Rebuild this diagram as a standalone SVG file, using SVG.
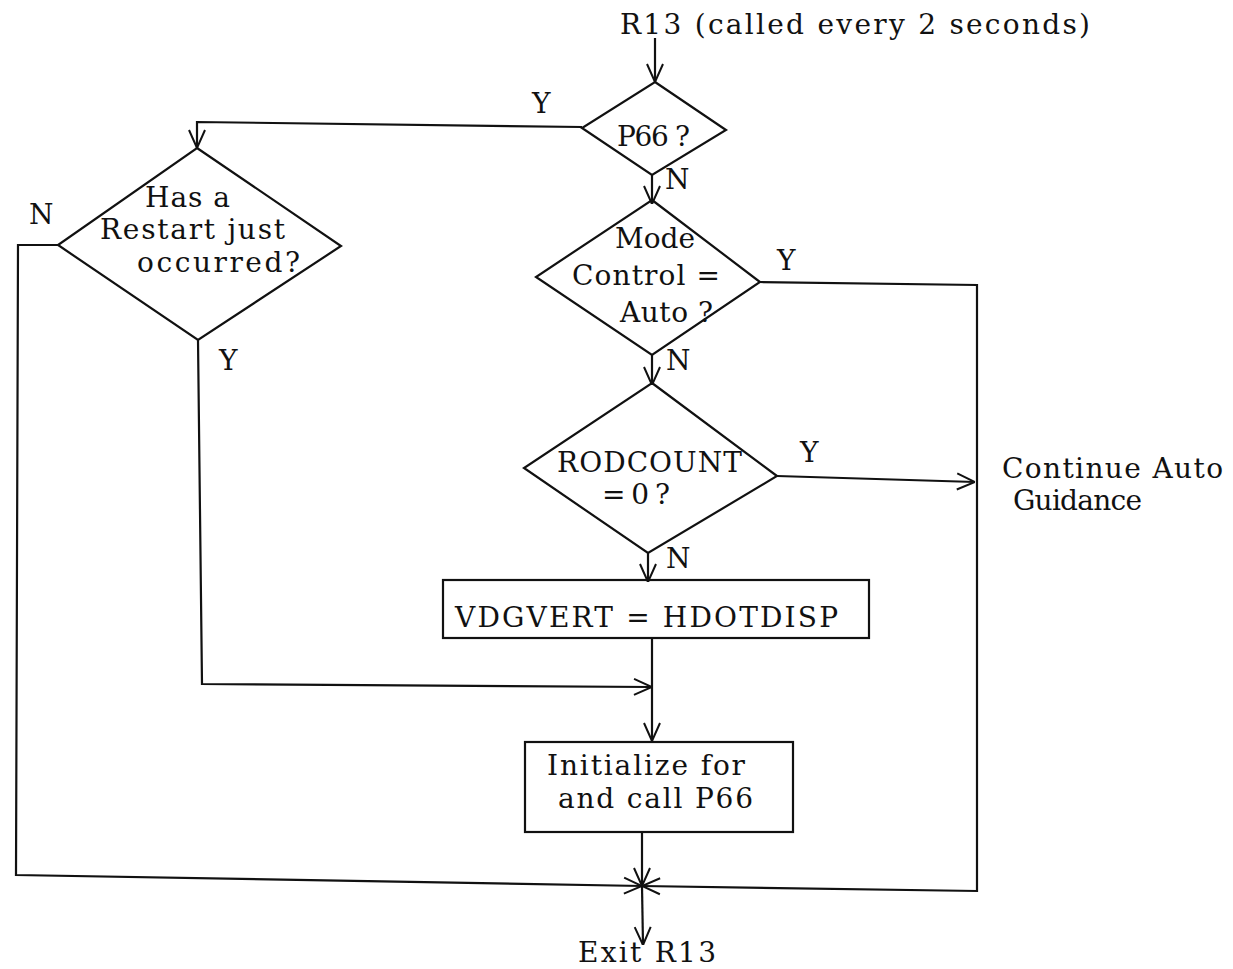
<svg xmlns="http://www.w3.org/2000/svg" width="1233" height="969" viewBox="0 0 1233 969">
<defs>
<marker id="ah" viewBox="0 0 20 20" refX="20" refY="10" markerWidth="20" markerHeight="20" markerUnits="userSpaceOnUse" orient="auto">
<path d="M2,2 L20,10 L2,18" fill="none" stroke="#111" stroke-width="2"/>
</marker>
</defs>
<style>
.s{fill:none;stroke:#111;stroke-width:2.2}
.t{font-family:"DejaVu Serif","Liberation Serif",serif;font-size:28px;fill:#111}
</style>
<rect width="1233" height="969" fill="#fff"/>
<g id="connectors">
<path class="s" d="M655,38 L655,82" marker-end="url(#ah)"/>
<path class="s" d="M582,127 L197,122 L197,148" marker-end="url(#ah)"/>
<path class="s" d="M652,175 L652,204" marker-end="url(#ah)"/>
<path class="s" d="M652,355 L652,385" marker-end="url(#ah)"/>
<path class="s" d="M648,553 L648,582" marker-end="url(#ah)"/>
<path class="s" d="M777,476 L975,482" marker-end="url(#ah)"/>
<path class="s" d="M760,282 L977,285 L977,891 L642,886" marker-end="url(#ah)"/>
<path class="s" d="M58,245 L18,245 L16,875 L642,886" marker-end="url(#ah)"/>
<path class="s" d="M198,340 L202,684 L652,687" marker-end="url(#ah)"/>
<path class="s" d="M652,638 L652,741" marker-end="url(#ah)"/>
<path class="s" d="M642,832 L642,886" marker-end="url(#ah)"/>
<path class="s" d="M642,886 L643,945" marker-end="url(#ah)"/>
</g>
<g id="start"><text class="t" x="620" y="34" textLength="470" lengthAdjust="spacing">R13 (called every 2 seconds)</text></g>
<g id="p66">
<polygon class="s" points="655,82 726,130 652,175 582,128"/>
<text class="t" x="617" y="146" textLength="73" lengthAdjust="spacing">P66 ?</text>
<text class="t" x="532" y="113">Y</text>
<text class="t" x="665" y="189">N</text>
</g>
<g id="restart">
<polygon class="s" points="197,148 341,246 198,340 58,245"/>
<text class="t" x="145" y="207" textLength="85" lengthAdjust="spacing">Has a</text>
<text class="t" x="100" y="239" textLength="185" lengthAdjust="spacing">Restart just</text>
<text class="t" x="137" y="272" textLength="163" lengthAdjust="spacing">occurred?</text>
<text class="t" x="29" y="224">N</text>
<text class="t" x="219" y="370">Y</text>
</g>
<g id="mode">
<polygon class="s" points="652,200 760,282 652,355 536,277"/>
<text class="t" x="615" y="248" textLength="80" lengthAdjust="spacing">Mode</text>
<text class="t" x="572" y="285" textLength="148" lengthAdjust="spacing">Control =</text>
<text class="t" x="620" y="322" textLength="93" lengthAdjust="spacing">Auto ?</text>
<text class="t" x="777" y="270">Y</text>
<text class="t" x="666" y="370">N</text>
</g>
<g id="rodcount">
<polygon class="s" points="652,383 777,476 648,553 524,468"/>
<text class="t" x="557" y="472" textLength="185" lengthAdjust="spacing">RODCOUNT</text>
<text class="t" x="602" y="504" textLength="68" lengthAdjust="spacing">= 0 ?</text>
<text class="t" x="800" y="462">Y</text>
<text class="t" x="666" y="568">N</text>
</g>
<g id="vdgvert">
<rect class="s" x="443" y="580" width="426" height="58"/>
<text class="t" x="455" y="627" textLength="383" lengthAdjust="spacing">VDGVERT = HDOTDISP</text>
</g>
<g id="init">
<rect class="s" x="525" y="742" width="268" height="90"/>
<text class="t" x="547" y="775" textLength="198" lengthAdjust="spacing">Initialize for</text>
<text class="t" x="558" y="808" textLength="195" lengthAdjust="spacing">and call P66</text>
</g>
<g id="continue">
<text class="t" x="1002" y="478" textLength="221" lengthAdjust="spacing">Continue Auto</text>
<text class="t" x="1013" y="510" textLength="129" lengthAdjust="spacing">Guidance</text>
</g>
<g id="exit"><text class="t" x="578" y="962" textLength="138" lengthAdjust="spacing">Exit R13</text></g>
</svg>
